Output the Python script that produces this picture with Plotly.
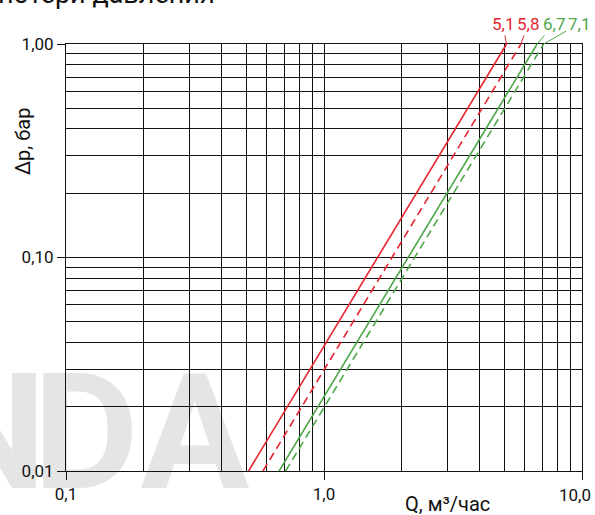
import math
import plotly.graph_objects as go

# ---- data ----
kv_labels = ["5,1", "5,8", "6,7", "7,1"]
q_start = [0.51, 0.58, 0.67, 0.71]      # Q at Δp = 0.01 bar
q_end = [5.1, 5.8, 6.7, 7.1]            # Q at Δp = 1.00 bar
dp_start = 0.01
dp_end = 1.0
series_colors = ["#e8252f", "#e8252f", "#4fa84a", "#4fa84a"]
series_dash = ["solid", "dash", "solid", "dash"]
label_offsets = [(-4, -20), (7, -20), (17, -20), (35, -20)]

x_tickvals = [0.1, 1, 10]
x_ticktext = ["0,1", "1,0", ""]
y_tickvals = [0.01, 0.1, 1]
y_ticktext = ["0,01", "0,10", "1,00"]
x_minor = [d * m for d in (0.1, 1) for m in range(2, 10)]
y_minor = [d * m for d in (0.01, 0.1) for m in range(2, 10)]

W, H = 595, 515
L, R, T, B = 66, 13, 44, 44
PW, PH = W - L - R, H - T - B


def px(xp):
    return (xp - L) / PW


def py(yp):
    return (H - B - yp) / PH


FONT = "Roboto"
INK = "#111"

fig = go.Figure()
for i in range(len(q_end)):
    fig.add_trace(go.Scatter(
        x=[q_start[i], q_end[i]], y=[dp_start, dp_end], mode="lines",
        line=dict(color=series_colors[i], width=1.6,
                  dash=("8px,5px" if series_dash[i] == "dash" else "solid")),
        showlegend=False, hoverinfo="skip"))

annotations = []
for i in range(len(q_end)):
    annotations.append(dict(
        x=math.log10(q_end[i]), y=math.log10(dp_end), xref="x", yref="y",
        text=kv_labels[i], showarrow=True, arrowhead=0, arrowwidth=1,
        arrowcolor=series_colors[i], ax=label_offsets[i][0], ay=label_offsets[i][1],
        font=dict(family=FONT, size=17, color=series_colors[i])))

annotations += [
    dict(text="10,0", x=math.log10(x_tickvals[-1]), y=0, xref="x", yref="paper",
         xanchor="center", yanchor="top", yshift=-12, xshift=-7, showarrow=False,
         font=dict(family=FONT, size=17, color=INK)),
    dict(text="Δp, бар", x=px(23), y=py(142), xref="paper", yref="paper",
         xanchor="center", yanchor="middle",
         textangle=-90, showarrow=False, font=dict(family=FONT, size=20, color=INK)),
    dict(text="Q, м³/час", x=px(447), y=py(504), xref="paper", yref="paper",
         xanchor="center", yanchor="middle",
         showarrow=False, font=dict(family=FONT, size=20, color=INK)),
    dict(text="потери давления", x=px(217), y=py(12), xref="paper", yref="paper",
         xanchor="right", yanchor="bottom", showarrow=False,
         font=dict(family=FONT, size=27, color=INK)),
]

WM = "#e5e5e5"
for letter, cx in (("N", -11), ("D", 86), ("A", 195)):
    fig.add_shape(type="rect", xref="paper", yref="paper",
                  x0=px(cx - 70), x1=px(cx + 70), y0=py(483), y1=py(358),
                  line=dict(width=0), fillcolor="rgba(0,0,0,0)", layer="below",
                  label=dict(text=letter, textposition="middle center",
                             font=dict(family=FONT, size=162, color=WM, weight="bold")))

axis_common = dict(type="log", showgrid=True, gridcolor=INK, gridwidth=1,
                   showline=True, linecolor=INK, linewidth=1, mirror=True,
                   ticks="outside", ticklen=8, tickcolor=INK, zeroline=False,
                   tickfont=dict(family=FONT, size=17, color=INK))

fig.update_layout(
    width=W, height=H, margin=dict(l=L, r=R, t=T, b=B, autoexpand=False),
    paper_bgcolor="white", plot_bgcolor="rgba(0,0,0,0)",
    annotations=annotations,
    xaxis=dict(axis_common, range=[-1, 1], tickvals=x_tickvals, ticktext=x_ticktext,
               minor=dict(tickvals=x_minor, showgrid=True, gridcolor=INK, gridwidth=1, ticks="")),
    yaxis=dict(axis_common, range=[-2, 0], tickvals=y_tickvals, ticktext=y_ticktext,
               minor=dict(tickvals=y_minor, showgrid=True, gridcolor=INK, gridwidth=1, ticks="")),
)
fig.write_html("out.html", config={"displayModeBar": False},
               post_script="document.body.style.margin='0';document.body.style.padding='0';")
